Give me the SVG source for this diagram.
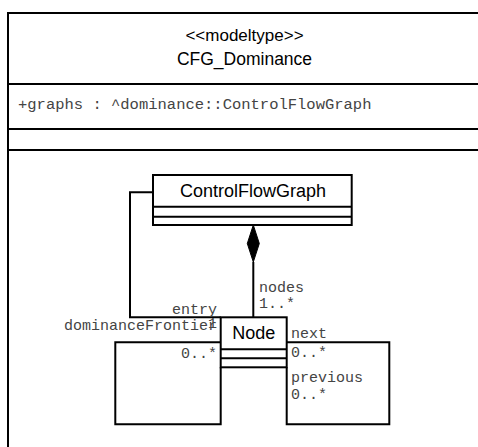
<svg xmlns="http://www.w3.org/2000/svg" width="478" height="447" viewBox="0 0 478 447">
<style>
.box{fill:#fff;stroke:#000;stroke-width:2}
.ln{fill:none;stroke:#000;stroke-width:2}
.t{font-family:"Liberation Sans",Arial,sans-serif;fill:#000;text-anchor:middle}
.m{font-family:"Liberation Mono","Courier New",monospace;font-size:15px;fill:#444}
.e{text-anchor:end}
</style>
<rect width="478" height="447" fill="#fff"/>
<g id="CFG_Dominance">
<rect class="box" x="8" y="13" width="474" height="440"/>
<line class="ln" x1="8" y1="84" x2="482" y2="84"/>
<line class="ln" x1="8" y1="129" x2="482" y2="129"/>
<line class="ln" x1="8" y1="150" x2="482" y2="150"/>
<text class="t" x="244.5" y="41" font-size="17">&lt;&lt;modeltype&gt;&gt;</text>
<text class="t" x="244.5" y="65" font-size="17.5">CFG_Dominance</text>
<text class="m" x="18" y="108.5" style="font-size:15.5px">+graphs : ^dominance::ControlFlowGraph</text>
</g>
<g id="connectors">
<path class="ln" d="M153,192.3 H130 V317.3 H220.7"/>
<path class="ln" d="M253.3,262 V317.3"/>
<path d="M253.3,225 L259.3,243.5 L253.3,262 L247.3,243.5 Z" fill="#000" stroke="#000" stroke-width="1"/>
<path class="ln" d="M220.7,342.3 H115.3 V424.3 H220.7 V367.3"/>
<path class="ln" d="M286.7,342.3 H389.3 V424.3 H286.7 V367.3"/>
<text class="m" x="259" y="291.5">nodes</text>
<text class="m" x="259" y="308">1..*</text>
<text class="m e" x="217" y="313.5">entry</text>
<text class="m e" x="217" y="327.5">1</text>
<text class="m e" x="217" y="329.5">dominanceFrontier</text>
<text class="m e" x="217" y="357.5">0..*</text>
<text class="m" x="291" y="338">next</text>
<text class="m" x="291" y="356.5">0..*</text>
<text class="m" x="291" y="381.5">previous</text>
<text class="m" x="291" y="399">0..*</text>
</g>
<g id="ControlFlowGraph">
<rect class="box" x="153" y="175" width="198.7" height="50"/>
<line class="ln" x1="153" y1="206.7" x2="351.7" y2="206.7"/>
<line class="ln" x1="153" y1="216.7" x2="351.7" y2="216.7"/>
<text class="t" x="253" y="196.7" font-size="18">ControlFlowGraph</text>
</g>
<g id="Node">
<rect class="box" x="220.7" y="317.3" width="66" height="50"/>
<line class="ln" x1="220.7" y1="349.3" x2="286.7" y2="349.3"/>
<line class="ln" x1="220.7" y1="358.3" x2="286.7" y2="358.3"/>
<text class="t" x="253.7" y="339" font-size="18">Node</text>
</g>
</svg>
